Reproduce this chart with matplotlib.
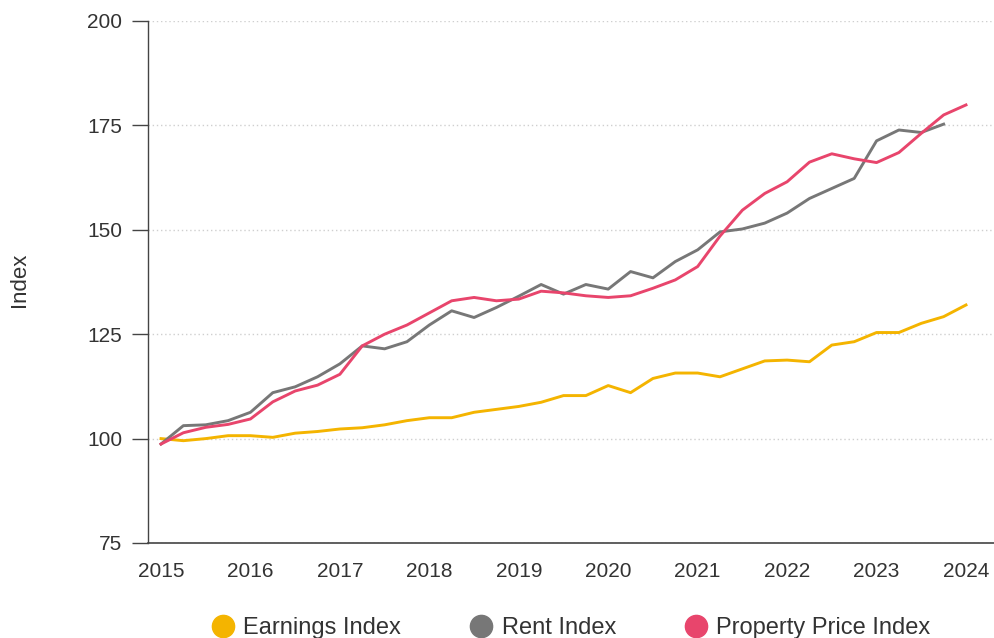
import matplotlib
matplotlib.use('Agg')
import matplotlib.pyplot as plt
from matplotlib.lines import Line2D

plt.rcParams['font.family'] = ['Liberation Sans', 'DejaVu Sans']

# quarterly data 2015 Q1 .. 2024 Q1
years = ['2015', '2016', '2017', '2018', '2019', '2020', '2021', '2022', '2023', '2024']

earnings = [100.0, 99.5, 100.0, 100.7, 100.7, 100.3, 101.3, 101.7, 102.3, 102.6,
            103.3, 104.3, 105.0, 105.0, 106.3, 107.0, 107.7, 108.7, 110.3, 110.3,
            112.7, 111.0, 114.4, 115.7, 115.7, 114.8, 116.7, 118.6, 118.8, 118.4,
            122.4, 123.2, 125.4, 125.4, 127.6, 129.2, 132.0]

rent = [98.7, 103.1, 103.3, 104.3, 106.3, 111.0, 112.4, 114.8, 117.9, 122.2,
        121.5, 123.2, 127.2, 130.6, 129.0, 131.4, 134.1, 136.9, 134.6, 136.9,
        135.8, 140.0, 138.5, 142.4, 145.2, 149.5, 150.2, 151.6, 154.0, 157.5,
        159.9, 162.3, 171.3, 173.9, 173.3, 175.3]

prop = [98.7, 101.4, 102.7, 103.4, 104.7, 108.8, 111.4, 112.8, 115.4, 122.2,
        125.0, 127.2, 130.1, 133.0, 133.8, 133.0, 133.4, 135.3, 134.9, 134.2,
        133.8, 134.2, 136.0, 138.0, 141.2, 148.5, 154.7, 158.7, 161.5, 166.2,
        168.2, 167.0, 166.1, 168.5, 173.1, 177.5, 179.9]

c_earn = '#F4B400'
c_rent = '#777777'
c_prop = '#E8456C'

fig = plt.figure(figsize=(9.95, 6.38), dpi=100)
ax = fig.add_axes([148 / 995, 1 - 543 / 638, 1 - 148 / 995, (543 - 21) / 638])

ax.plot(range(len(earnings)), earnings, color=c_earn, lw=2.1, zorder=3)
ax.plot(range(len(rent)), rent, color=c_rent, lw=2.1, zorder=4)
ax.plot(range(len(prop)), prop, color=c_prop, lw=2.1, zorder=5)

ax.set_ylim(75, 200)
ax.set_yticks([75, 100, 125, 150, 175, 200])
ax.set_xlim(-13 / 22.35, 36 + 29 / 22.35)
ax.set_xticks(range(0, 37, 4))
ax.set_xticklabels(years)

ax.grid(axis='y', color='#cfcfcf', linestyle=(0, (1, 2)), lw=1.0)
ax.set_axisbelow(True)
for s in ['top', 'right']:
    ax.spines[s].set_visible(False)
ax.spines['left'].set_color('#444444')
ax.spines['bottom'].set_color('#444444')
ax.spines['left'].set_linewidth(1.0)
ax.spines['bottom'].set_linewidth(1.2)

ax.tick_params(axis='y', length=11.5, width=1.0, color='#444444', pad=7,
               labelsize=15, labelcolor='#333333')
ax.tick_params(axis='x', length=0, pad=14, labelsize=15, labelcolor='#333333')

fig.text(20 / 995, 1 - 280 / 638, 'Index', rotation=90, ha='center', va='center',
         fontsize=16, color='#333333')

handles = [Line2D([], [], ls='none', marker='o', markersize=16, color=c)
           for c in (c_earn, c_rent, c_prop)]
fig.legend(handles, ['Earnings Index', 'Rent Index', 'Property Price Index'],
           loc='center', bbox_to_anchor=(571 / 995, 1 - 628 / 638), ncol=3,
           frameon=False, fontsize=17, handlelength=1.0, handletextpad=0.35,
           columnspacing=2.9, labelcolor='#333333', borderaxespad=0)

fig.savefig('out.png', dpi=100)
